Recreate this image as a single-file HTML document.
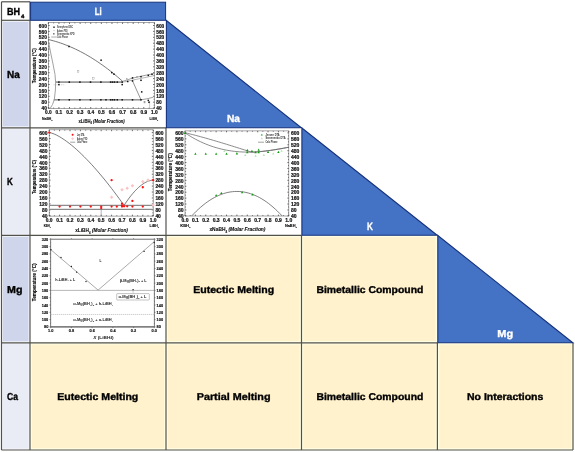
<!DOCTYPE html>
<html><head><meta charset="utf-8"><style>
html,body{margin:0;padding:0;background:#fff;width:575px;height:452px;overflow:hidden;position:relative}
</style></head><body>
<svg width="575" height="452" viewBox="0 0 575 452" style="position:absolute;left:0;top:0;will-change:transform;filter:blur(0.3px)">
<rect x="0" y="0" width="575" height="452" fill="#fff"/>
<rect x="1.5" y="20.3" width="28.5" height="107.5" fill="#f4f5fb"/>
<rect x="3.0" y="21.8" width="25.5" height="104.5" fill="#cfd5ea"/>
<rect x="1.5" y="127.8" width="28.5" height="107.50000000000001" fill="#f4f5fb"/>
<rect x="3.0" y="129.3" width="25.5" height="104.50000000000001" fill="#e9ebf5"/>
<rect x="1.5" y="235.3" width="28.5" height="107.5" fill="#f4f5fb"/>
<rect x="3.0" y="236.8" width="25.5" height="104.5" fill="#cfd5ea"/>
<rect x="1.5" y="342.8" width="28.5" height="107.19999999999999" fill="#f4f5fb"/>
<rect x="3.0" y="344.3" width="25.5" height="104.19999999999999" fill="#e9ebf5"/>
<rect x="166" y="235.3" width="135.5" height="107.5" fill="#fffde2"/>
<rect x="167.9" y="237.20000000000002" width="131.7" height="103.7" fill="#fff2cc"/>
<rect x="301.5" y="235.3" width="135.89999999999998" height="107.5" fill="#fffde2"/>
<rect x="303.4" y="237.20000000000002" width="132.09999999999997" height="103.7" fill="#fff2cc"/>
<rect x="30" y="342.8" width="136" height="107.19999999999999" fill="#fffde2"/>
<rect x="31.9" y="344.7" width="132.2" height="103.39999999999999" fill="#fff2cc"/>
<rect x="166" y="342.8" width="135.5" height="107.19999999999999" fill="#fffde2"/>
<rect x="167.9" y="344.7" width="131.7" height="103.39999999999999" fill="#fff2cc"/>
<rect x="301.5" y="342.8" width="135.89999999999998" height="107.19999999999999" fill="#fffde2"/>
<rect x="303.4" y="344.7" width="132.09999999999997" height="103.39999999999999" fill="#fff2cc"/>
<rect x="437.4" y="342.8" width="135.60000000000002" height="107.19999999999999" fill="#fffde2"/>
<rect x="439.29999999999995" y="344.7" width="131.8" height="103.39999999999999" fill="#fff2cc"/>
<line x1="1.5" y1="1.8" x2="1.5" y2="450.0" stroke="#52524c" stroke-width="1.2"/>
<line x1="1.5" y1="1.8" x2="30" y2="1.8" stroke="#52524c" stroke-width="1.2"/>
<line x1="1.5" y1="20.3" x2="30" y2="20.3" stroke="#52524c" stroke-width="1.2"/>
<line x1="1.5" y1="127.8" x2="166" y2="127.8" stroke="#52524c" stroke-width="1.2"/>
<line x1="1.5" y1="235.3" x2="301.5" y2="235.3" stroke="#52524c" stroke-width="1.2"/>
<line x1="1.5" y1="342.8" x2="437.4" y2="342.8" stroke="#52524c" stroke-width="1.2"/>
<line x1="1.5" y1="450.0" x2="573" y2="450.0" stroke="#52524c" stroke-width="1.2"/>
<line x1="30" y1="1.8" x2="30" y2="450.0" stroke="#52524c" stroke-width="1.2"/>
<line x1="166" y1="127.8" x2="166" y2="450.0" stroke="#52524c" stroke-width="1.2"/>
<line x1="301.5" y1="235.3" x2="301.5" y2="450.0" stroke="#52524c" stroke-width="1.2"/>
<line x1="437.4" y1="342.8" x2="437.4" y2="450.0" stroke="#52524c" stroke-width="1.2"/>
<line x1="573" y1="342.8" x2="573" y2="450.0" stroke="#52524c" stroke-width="1.2"/>
<rect x="30.6" y="2.2" width="135.0" height="18.1" fill="#4472c4" stroke="#15327c" stroke-width="1"/>
<path d="M166.4,20.5 L301.3,127.7 L166.4,127.7 Z" fill="#4472c4" stroke="#15327c" stroke-width="1.1" stroke-linejoin="miter"/>
<path d="M301.9,128.0 L437.2,235.20000000000002 L301.9,235.20000000000002 Z" fill="#4472c4" stroke="#15327c" stroke-width="1.1" stroke-linejoin="miter"/>
<path d="M437.79999999999995,235.5 L572.8,342.7 L437.79999999999995,342.7 Z" fill="#4472c4" stroke="#15327c" stroke-width="1.1" stroke-linejoin="miter"/>
<text x="6.9" y="15.1" style="font-family:'Liberation Sans',sans-serif;font-weight:bold;font-size:10.2px" fill="#000" text-anchor="start" textLength="13.1" lengthAdjust="spacingAndGlyphs" stroke="#000" stroke-width="0.35" text-rendering="geometricPrecision">BH</text>
<text x="21.0" y="17.7" style="font-family:'Liberation Sans',sans-serif;font-weight:bold;font-size:5.2px" fill="#000" text-anchor="start" textLength="3.3" lengthAdjust="spacingAndGlyphs" stroke="#000" stroke-width="0.3" text-rendering="geometricPrecision">4</text>
<text x="94.7" y="14.9" style="font-family:'Liberation Sans',sans-serif;font-weight:bold;font-size:10.4px" fill="#fff" text-anchor="start" textLength="6.9" lengthAdjust="spacingAndGlyphs" stroke="#fff" stroke-width="0.35" text-rendering="geometricPrecision">Li</text>
<text x="7.1" y="77.8" style="font-family:'Liberation Sans',sans-serif;font-weight:bold;font-size:10.2px" fill="#000" text-anchor="start" textLength="12.8" lengthAdjust="spacingAndGlyphs" stroke="#000" stroke-width="0.35" text-rendering="geometricPrecision">Na</text>
<text x="226.9" y="121.8" style="font-family:'Liberation Sans',sans-serif;font-weight:bold;font-size:10.3px" fill="#fff" text-anchor="start" textLength="13.0" lengthAdjust="spacingAndGlyphs" stroke="#fff" stroke-width="0.35" text-rendering="geometricPrecision">Na</text>
<text x="367.1" y="230.2" style="font-family:'Liberation Sans',sans-serif;font-weight:bold;font-size:10.6px" fill="#fff" text-anchor="start" textLength="5.9" lengthAdjust="spacingAndGlyphs" stroke="#fff" stroke-width="0.35" text-rendering="geometricPrecision">K</text>
<text x="497.3" y="336.7" style="font-family:'Liberation Sans',sans-serif;font-weight:bold;font-size:10.1px" fill="#fff" text-anchor="start" textLength="15.8" lengthAdjust="spacingAndGlyphs" stroke="#fff" stroke-width="0.35" text-rendering="geometricPrecision">Mg</text>
<text x="7.1" y="185.1" style="font-family:'Liberation Sans',sans-serif;font-weight:bold;font-size:10.2px" fill="#000" text-anchor="start" textLength="5.8" lengthAdjust="spacingAndGlyphs" stroke="#000" stroke-width="0.35" text-rendering="geometricPrecision">K</text>
<text x="7.1" y="293.0" style="font-family:'Liberation Sans',sans-serif;font-weight:bold;font-size:10.1px" fill="#000" text-anchor="start" textLength="15.4" lengthAdjust="spacingAndGlyphs" stroke="#000" stroke-width="0.35" text-rendering="geometricPrecision">Mg</text>
<text x="7.1" y="400.2" style="font-family:'Liberation Sans',sans-serif;font-weight:bold;font-size:10.2px" fill="#000" text-anchor="start" textLength="11.0" lengthAdjust="spacingAndGlyphs" stroke="#000" stroke-width="0.35" text-rendering="geometricPrecision">Ca</text>
<text x="57.3" y="400.2" style="font-family:'Liberation Sans',sans-serif;font-weight:bold;font-size:9.9px" fill="#000" text-anchor="start" textLength="81" lengthAdjust="spacingAndGlyphs" stroke="#000" stroke-width="0.35" text-rendering="geometricPrecision">Eutectic Melting</text>
<text x="193.2" y="292.8" style="font-family:'Liberation Sans',sans-serif;font-weight:bold;font-size:9.9px" fill="#000" text-anchor="start" textLength="81" lengthAdjust="spacingAndGlyphs" stroke="#000" stroke-width="0.35" text-rendering="geometricPrecision">Eutectic Melting</text>
<text x="316.4" y="292.8" style="font-family:'Liberation Sans',sans-serif;font-weight:bold;font-size:9.9px" fill="#000" text-anchor="start" textLength="107" lengthAdjust="spacingAndGlyphs" stroke="#000" stroke-width="0.35" text-rendering="geometricPrecision">Bimetallic Compound</text>
<text x="196.7" y="400.4" style="font-family:'Liberation Sans',sans-serif;font-weight:bold;font-size:9.9px" fill="#000" text-anchor="start" textLength="73.8" lengthAdjust="spacingAndGlyphs" stroke="#000" stroke-width="0.35" text-rendering="geometricPrecision">Partial Melting</text>
<text x="316.4" y="400.4" style="font-family:'Liberation Sans',sans-serif;font-weight:bold;font-size:9.9px" fill="#000" text-anchor="start" textLength="107" lengthAdjust="spacingAndGlyphs" stroke="#000" stroke-width="0.35" text-rendering="geometricPrecision">Bimetallic Compound</text>
<text x="467" y="400.4" style="font-family:'Liberation Sans',sans-serif;font-weight:bold;font-size:9.9px" fill="#000" text-anchor="start" textLength="76.3" lengthAdjust="spacingAndGlyphs" stroke="#000" stroke-width="0.35" text-rendering="geometricPrecision">No Interactions</text>
<rect x="48.3" y="22.6" width="106.10000000000001" height="85.80000000000001" fill="#fff" stroke="#6a6a6a" stroke-width="0.6"/>
<text x="46.8" y="27.6375" style="font-family:'Liberation Sans',sans-serif;font-weight:bold;font-size:4.75px" fill="#111" text-anchor="end" stroke="#111" stroke-width="0.2">600</text>
<text x="156.3" y="27.6375" style="font-family:'Liberation Sans',sans-serif;font-weight:bold;font-size:4.75px" fill="#111" text-anchor="start" stroke="#111" stroke-width="0.2">600</text>
<text x="46.8" y="33.537499999999994" style="font-family:'Liberation Sans',sans-serif;font-weight:bold;font-size:4.75px" fill="#111" text-anchor="end" stroke="#111" stroke-width="0.2">560</text>
<text x="156.3" y="33.537499999999994" style="font-family:'Liberation Sans',sans-serif;font-weight:bold;font-size:4.75px" fill="#111" text-anchor="start" stroke="#111" stroke-width="0.2">560</text>
<text x="46.8" y="39.4375" style="font-family:'Liberation Sans',sans-serif;font-weight:bold;font-size:4.75px" fill="#111" text-anchor="end" stroke="#111" stroke-width="0.2">520</text>
<text x="156.3" y="39.4375" style="font-family:'Liberation Sans',sans-serif;font-weight:bold;font-size:4.75px" fill="#111" text-anchor="start" stroke="#111" stroke-width="0.2">520</text>
<text x="46.8" y="45.33749999999999" style="font-family:'Liberation Sans',sans-serif;font-weight:bold;font-size:4.75px" fill="#111" text-anchor="end" stroke="#111" stroke-width="0.2">480</text>
<text x="156.3" y="45.33749999999999" style="font-family:'Liberation Sans',sans-serif;font-weight:bold;font-size:4.75px" fill="#111" text-anchor="start" stroke="#111" stroke-width="0.2">480</text>
<text x="46.8" y="51.2375" style="font-family:'Liberation Sans',sans-serif;font-weight:bold;font-size:4.75px" fill="#111" text-anchor="end" stroke="#111" stroke-width="0.2">440</text>
<text x="156.3" y="51.2375" style="font-family:'Liberation Sans',sans-serif;font-weight:bold;font-size:4.75px" fill="#111" text-anchor="start" stroke="#111" stroke-width="0.2">440</text>
<text x="46.8" y="57.1375" style="font-family:'Liberation Sans',sans-serif;font-weight:bold;font-size:4.75px" fill="#111" text-anchor="end" stroke="#111" stroke-width="0.2">400</text>
<text x="156.3" y="57.1375" style="font-family:'Liberation Sans',sans-serif;font-weight:bold;font-size:4.75px" fill="#111" text-anchor="start" stroke="#111" stroke-width="0.2">400</text>
<text x="46.8" y="63.037499999999994" style="font-family:'Liberation Sans',sans-serif;font-weight:bold;font-size:4.75px" fill="#111" text-anchor="end" stroke="#111" stroke-width="0.2">360</text>
<text x="156.3" y="63.037499999999994" style="font-family:'Liberation Sans',sans-serif;font-weight:bold;font-size:4.75px" fill="#111" text-anchor="start" stroke="#111" stroke-width="0.2">360</text>
<text x="46.8" y="68.9375" style="font-family:'Liberation Sans',sans-serif;font-weight:bold;font-size:4.75px" fill="#111" text-anchor="end" stroke="#111" stroke-width="0.2">320</text>
<text x="156.3" y="68.9375" style="font-family:'Liberation Sans',sans-serif;font-weight:bold;font-size:4.75px" fill="#111" text-anchor="start" stroke="#111" stroke-width="0.2">320</text>
<text x="46.8" y="74.83749999999999" style="font-family:'Liberation Sans',sans-serif;font-weight:bold;font-size:4.75px" fill="#111" text-anchor="end" stroke="#111" stroke-width="0.2">280</text>
<text x="156.3" y="74.83749999999999" style="font-family:'Liberation Sans',sans-serif;font-weight:bold;font-size:4.75px" fill="#111" text-anchor="start" stroke="#111" stroke-width="0.2">280</text>
<text x="46.8" y="80.7375" style="font-family:'Liberation Sans',sans-serif;font-weight:bold;font-size:4.75px" fill="#111" text-anchor="end" stroke="#111" stroke-width="0.2">240</text>
<text x="156.3" y="80.7375" style="font-family:'Liberation Sans',sans-serif;font-weight:bold;font-size:4.75px" fill="#111" text-anchor="start" stroke="#111" stroke-width="0.2">240</text>
<text x="46.8" y="86.6375" style="font-family:'Liberation Sans',sans-serif;font-weight:bold;font-size:4.75px" fill="#111" text-anchor="end" stroke="#111" stroke-width="0.2">200</text>
<text x="156.3" y="86.6375" style="font-family:'Liberation Sans',sans-serif;font-weight:bold;font-size:4.75px" fill="#111" text-anchor="start" stroke="#111" stroke-width="0.2">200</text>
<text x="46.8" y="92.5375" style="font-family:'Liberation Sans',sans-serif;font-weight:bold;font-size:4.75px" fill="#111" text-anchor="end" stroke="#111" stroke-width="0.2">160</text>
<text x="156.3" y="92.5375" style="font-family:'Liberation Sans',sans-serif;font-weight:bold;font-size:4.75px" fill="#111" text-anchor="start" stroke="#111" stroke-width="0.2">160</text>
<text x="46.8" y="98.4375" style="font-family:'Liberation Sans',sans-serif;font-weight:bold;font-size:4.75px" fill="#111" text-anchor="end" stroke="#111" stroke-width="0.2">120</text>
<text x="156.3" y="98.4375" style="font-family:'Liberation Sans',sans-serif;font-weight:bold;font-size:4.75px" fill="#111" text-anchor="start" stroke="#111" stroke-width="0.2">120</text>
<text x="46.8" y="104.33749999999999" style="font-family:'Liberation Sans',sans-serif;font-weight:bold;font-size:4.75px" fill="#111" text-anchor="end" stroke="#111" stroke-width="0.2">80</text>
<text x="156.3" y="104.33749999999999" style="font-family:'Liberation Sans',sans-serif;font-weight:bold;font-size:4.75px" fill="#111" text-anchor="start" stroke="#111" stroke-width="0.2">80</text>
<text x="46.8" y="110.2375" style="font-family:'Liberation Sans',sans-serif;font-weight:bold;font-size:4.75px" fill="#111" text-anchor="end" stroke="#111" stroke-width="0.2">40</text>
<text x="156.3" y="110.2375" style="font-family:'Liberation Sans',sans-serif;font-weight:bold;font-size:4.75px" fill="#111" text-anchor="start" stroke="#111" stroke-width="0.2">40</text>
<text x="48.3" y="113.9" style="font-family:'Liberation Sans',sans-serif;font-weight:bold;font-size:4.75px" fill="#111" text-anchor="middle" stroke="#111" stroke-width="0.2">0.0</text>
<text x="58.91" y="113.9" style="font-family:'Liberation Sans',sans-serif;font-weight:bold;font-size:4.75px" fill="#111" text-anchor="middle" stroke="#111" stroke-width="0.2">0.1</text>
<text x="69.52" y="113.9" style="font-family:'Liberation Sans',sans-serif;font-weight:bold;font-size:4.75px" fill="#111" text-anchor="middle" stroke="#111" stroke-width="0.2">0.2</text>
<text x="80.13" y="113.9" style="font-family:'Liberation Sans',sans-serif;font-weight:bold;font-size:4.75px" fill="#111" text-anchor="middle" stroke="#111" stroke-width="0.2">0.3</text>
<text x="90.74000000000001" y="113.9" style="font-family:'Liberation Sans',sans-serif;font-weight:bold;font-size:4.75px" fill="#111" text-anchor="middle" stroke="#111" stroke-width="0.2">0.4</text>
<text x="101.35" y="113.9" style="font-family:'Liberation Sans',sans-serif;font-weight:bold;font-size:4.75px" fill="#111" text-anchor="middle" stroke="#111" stroke-width="0.2">0.5</text>
<text x="111.96000000000001" y="113.9" style="font-family:'Liberation Sans',sans-serif;font-weight:bold;font-size:4.75px" fill="#111" text-anchor="middle" stroke="#111" stroke-width="0.2">0.6</text>
<text x="122.57" y="113.9" style="font-family:'Liberation Sans',sans-serif;font-weight:bold;font-size:4.75px" fill="#111" text-anchor="middle" stroke="#111" stroke-width="0.2">0.7</text>
<text x="133.18" y="113.9" style="font-family:'Liberation Sans',sans-serif;font-weight:bold;font-size:4.75px" fill="#111" text-anchor="middle" stroke="#111" stroke-width="0.2">0.8</text>
<text x="143.79000000000002" y="113.9" style="font-family:'Liberation Sans',sans-serif;font-weight:bold;font-size:4.75px" fill="#111" text-anchor="middle" stroke="#111" stroke-width="0.2">0.9</text>
<text x="154.4" y="113.9" style="font-family:'Liberation Sans',sans-serif;font-weight:bold;font-size:4.75px" fill="#111" text-anchor="middle" stroke="#111" stroke-width="0.2">1.0</text>
<path d="M48.3,25.50h1.4M154.4,25.50h-1.4M48.3,28.45h0.8M154.4,28.45h-0.8M48.3,31.40h1.4M154.4,31.40h-1.4M48.3,34.35h0.8M154.4,34.35h-0.8M48.3,37.30h1.4M154.4,37.30h-1.4M48.3,40.25h0.8M154.4,40.25h-0.8M48.3,43.20h1.4M154.4,43.20h-1.4M48.3,46.15h0.8M154.4,46.15h-0.8M48.3,49.10h1.4M154.4,49.10h-1.4M48.3,52.05h0.8M154.4,52.05h-0.8M48.3,55.00h1.4M154.4,55.00h-1.4M48.3,57.95h0.8M154.4,57.95h-0.8M48.3,60.90h1.4M154.4,60.90h-1.4M48.3,63.85h0.8M154.4,63.85h-0.8M48.3,66.80h1.4M154.4,66.80h-1.4M48.3,69.75h0.8M154.4,69.75h-0.8M48.3,72.70h1.4M154.4,72.70h-1.4M48.3,75.65h0.8M154.4,75.65h-0.8M48.3,78.60h1.4M154.4,78.60h-1.4M48.3,81.55h0.8M154.4,81.55h-0.8M48.3,84.50h1.4M154.4,84.50h-1.4M48.3,87.45h0.8M154.4,87.45h-0.8M48.3,90.40h1.4M154.4,90.40h-1.4M48.3,93.35h0.8M154.4,93.35h-0.8M48.3,96.30h1.4M154.4,96.30h-1.4M48.3,99.25h0.8M154.4,99.25h-0.8M48.3,102.20h1.4M154.4,102.20h-1.4M48.3,105.15h0.8M154.4,105.15h-0.8M48.3,108.10h1.4M154.4,108.10h-1.4M48.30,108.4v-1.4M48.30,22.6v1.4M53.60,108.4v-0.8M53.60,22.6v0.8M58.91,108.4v-1.4M58.91,22.6v1.4M64.22,108.4v-0.8M64.22,22.6v0.8M69.52,108.4v-1.4M69.52,22.6v1.4M74.82,108.4v-0.8M74.82,22.6v0.8M80.13,108.4v-1.4M80.13,22.6v1.4M85.44,108.4v-0.8M85.44,22.6v0.8M90.74,108.4v-1.4M90.74,22.6v1.4M96.05,108.4v-0.8M96.05,22.6v0.8M101.35,108.4v-1.4M101.35,22.6v1.4M106.66,108.4v-0.8M106.66,22.6v0.8M111.96,108.4v-1.4M111.96,22.6v1.4M117.27,108.4v-0.8M117.27,22.6v0.8M122.57,108.4v-1.4M122.57,22.6v1.4M127.88,108.4v-0.8M127.88,22.6v0.8M133.18,108.4v-1.4M133.18,22.6v1.4M138.49,108.4v-0.8M138.49,22.6v0.8M143.79,108.4v-1.4M143.79,22.6v1.4M149.10,108.4v-0.8M149.10,22.6v0.8M154.40,108.4v-1.4M154.40,22.6v1.4" stroke="#333" stroke-width="0.7" fill="none"/>
<path d="M48.50,41.50 L50.50,52.00 L53.00,64.00 L55.00,74.50 L55.60,82.10 L55.40,90.00 L54.30,99.80 L52.50,104.50 L50.30,108.20" fill="none" stroke="#8a8a8a" stroke-width="0.8"/>
<path d="M48.30,39.51 L50.78,40.12 L53.25,40.77 L55.73,41.48 L58.20,42.25 L60.68,43.07 L63.15,43.95 L65.63,44.88 L68.11,45.86 L70.58,46.90 L73.06,47.99 L75.53,49.14 L78.01,50.34 L80.48,51.59 L82.96,52.90 L85.44,54.27 L87.91,55.69 L90.39,57.16 L92.86,58.69 L95.34,60.27 L97.81,61.90 L100.29,63.60 L102.76,65.34 L105.24,67.14 L107.72,68.99 L110.19,70.90 L112.67,72.86 L115.14,74.88 L117.62,76.95 L120.09,79.08 L122.57,81.26" fill="none" stroke="#555" stroke-width="0.8"/>
<path d="M55.60,82.10 L122.20,82.10" fill="none" stroke="#a8a8a8" stroke-width="1.6"/>
<path d="M55.60,82.10 L122.20,82.10" fill="none" stroke="#777" stroke-width="0.5"/>
<path d="M53.70,99.80 L141.00,99.80" fill="none" stroke="#a8a8a8" stroke-width="1.6"/>
<path d="M53.70,99.80 L141.00,99.80" fill="none" stroke="#777" stroke-width="0.5"/>
<path d="M122.20,81.50 L132.00,78.30 L142.00,76.00 L154.20,73.60" fill="none" stroke="#777" stroke-width="0.7"/>
<path d="M122.20,82.30 L132.00,80.20 L142.00,78.20 L154.20,75.60" fill="none" stroke="#999" stroke-width="0.7"/>
<path d="M132.50,80.90 L141.00,99.80" fill="none" stroke="#666" stroke-width="0.7"/>
<path d="M141.00,99.80 L147.00,98.80 L153.40,97.20" fill="none" stroke="#777" stroke-width="0.7"/>
<path d="M149.60,101.00 L149.60,107.80" fill="none" stroke="#999" stroke-width="0.5"/>
<path d="M53.70,84.80 L64.70,84.80" fill="none" stroke="#aaa" stroke-width="0.6" stroke-dasharray="1,0.8"/>
<rect x="58.15" y="81.35" width="1.5" height="1.5" fill="#111"/>
<rect x="68.55" y="81.35" width="1.5" height="1.5" fill="#111"/>
<rect x="79.15" y="81.35" width="1.5" height="1.5" fill="#111"/>
<rect x="89.75" y="81.35" width="1.5" height="1.5" fill="#111"/>
<rect x="100.15" y="81.35" width="1.5" height="1.5" fill="#111"/>
<rect x="109.85" y="81.35" width="1.5" height="1.5" fill="#111"/>
<rect x="111.75" y="81.35" width="1.5" height="1.5" fill="#111"/>
<rect x="113.75" y="81.35" width="1.5" height="1.5" fill="#111"/>
<rect x="116.55" y="81.35" width="1.5" height="1.5" fill="#111"/>
<rect x="121.45" y="81.35" width="1.5" height="1.5" fill="#111"/>
<rect x="58.15" y="99.05" width="1.5" height="1.5" fill="#111"/>
<rect x="68.55" y="99.05" width="1.5" height="1.5" fill="#111"/>
<rect x="79.15" y="99.05" width="1.5" height="1.5" fill="#111"/>
<rect x="89.75" y="99.05" width="1.5" height="1.5" fill="#111"/>
<rect x="100.15" y="99.05" width="1.5" height="1.5" fill="#111"/>
<rect x="105.25" y="99.05" width="1.5" height="1.5" fill="#111"/>
<rect x="109.85" y="99.05" width="1.5" height="1.5" fill="#111"/>
<rect x="111.75" y="99.05" width="1.5" height="1.5" fill="#111"/>
<rect x="113.75" y="99.05" width="1.5" height="1.5" fill="#111"/>
<rect x="116.55" y="99.05" width="1.5" height="1.5" fill="#111"/>
<rect x="121.45" y="99.05" width="1.5" height="1.5" fill="#111"/>
<rect x="131.75" y="99.05" width="1.5" height="1.5" fill="#111"/>
<rect x="140.25" y="99.05" width="1.5" height="1.5" fill="#111"/>
<rect x="58.15" y="83.85" width="1.5" height="1.5" fill="#111"/>
<rect x="68.25" y="45.75" width="1.5" height="1.5" fill="#111"/>
<rect x="100.35" y="59.45" width="1.5" height="1.5" fill="#111"/>
<rect x="111.05" y="71.85" width="1.5" height="1.5" fill="#111"/>
<rect x="113.25" y="73.45" width="1.5" height="1.5" fill="#111"/>
<rect x="121.45" y="83.85" width="1.5" height="1.5" fill="#111"/>
<rect x="126.95" y="80.75" width="1.5" height="1.5" fill="#111"/>
<rect x="131.75" y="77.15" width="1.5" height="1.5" fill="#111"/>
<rect x="131.75" y="80.15" width="1.5" height="1.5" fill="#111"/>
<rect x="140.25" y="75.95" width="1.5" height="1.5" fill="#111"/>
<rect x="140.25" y="79.55" width="1.5" height="1.5" fill="#111"/>
<rect x="147.55" y="74.65" width="1.5" height="1.5" fill="#111"/>
<rect x="151.25" y="73.45" width="1.5" height="1.5" fill="#111"/>
<rect x="140.95" y="91.15" width="1.5" height="1.5" fill="#111"/>
<rect x="147.55" y="99.65" width="1.5" height="1.5" fill="#111"/>
<rect x="148.25" y="101.55" width="1.5" height="1.5" fill="#111"/>
<rect x="77.3" y="70.60000000000001" width="1.6" height="1.6" fill="none" stroke="#999" stroke-width="0.4"/>
<rect x="92.5" y="77.7" width="1.6" height="1.6" fill="none" stroke="#999" stroke-width="0.4"/>
<rect x="143.89999999999998" y="101.4" width="1.6" height="1.6" fill="none" stroke="#999" stroke-width="0.4"/>
<rect x="126.2" y="78.2" width="1.6" height="1.6" fill="none" stroke="#999" stroke-width="0.4"/>
<rect x="136.2" y="76.2" width="1.6" height="1.6" fill="none" stroke="#999" stroke-width="0.4"/>
<rect x="53.30" y="26.50" width="1.4" height="1.4" fill="#111"/>
<line x1="53.2" y1="30.6" x2="55" y2="30.6" stroke="#bbb" stroke-width="0.6"/>
<rect x="53.4" y="33.4" width="1.2" height="1.2" fill="#bbb" stroke="#666" stroke-width="0.4"/>
<line x1="51.2" y1="37" x2="56.8" y2="37" stroke="#999" stroke-width="0.8"/>
<text x="57.1" y="28.2" style="font-family:'Liberation Sans',sans-serif;font-weight:bold;font-size:2.8px" fill="#333" text-anchor="start" textLength="16" lengthAdjust="spacingAndGlyphs">Semyhera DSC</text>
<text x="57.1" y="31.6" style="font-family:'Liberation Sans',sans-serif;font-weight:bold;font-size:2.8px" fill="#333" text-anchor="start" textLength="10.5" lengthAdjust="spacingAndGlyphs">Adams PXD</text>
<text x="57.1" y="35.0" style="font-family:'Liberation Sans',sans-serif;font-weight:bold;font-size:2.8px" fill="#333" text-anchor="start" textLength="17.4" lengthAdjust="spacingAndGlyphs">Semenenko XPD</text>
<text x="57.1" y="38.0" style="font-family:'Liberation Sans',sans-serif;font-weight:bold;font-size:2.8px" fill="#333" text-anchor="start" textLength="10.8" lengthAdjust="spacingAndGlyphs">Calc Phase</text>
<text transform="translate(35.8,65.7) rotate(-90)" x="0" y="0" style="font-family:'Liberation Sans',sans-serif;font-weight:bold;font-size:4.9px" fill="#000" stroke="#000" stroke-width="0.12" text-anchor="middle" textLength="35" lengthAdjust="spacingAndGlyphs">Temperature (°C)</text>
<text x="42.0" y="119.6" style="font-family:'Liberation Sans',sans-serif;font-weight:bold;font-size:4.2px" fill="#111" stroke="#111" stroke-width="0.15" textLength="10.5" lengthAdjust="spacingAndGlyphs">NaBH<tspan style="font-size:2.52px" dy="1.05">4</tspan></text>
<text x="149.6" y="119.6" style="font-family:'Liberation Sans',sans-serif;font-weight:bold;font-size:4.2px" fill="#111" stroke="#111" stroke-width="0.15" textLength="8.6" lengthAdjust="spacingAndGlyphs">LiBH<tspan style="font-size:2.52px" dy="1.05">4</tspan></text>
<text x="78.4" y="122.6" style="font-family:'Liberation Sans',sans-serif;font-weight:bold;font-size:5.0px" fill="#111" stroke="#111" stroke-width="0.12" textLength="46.3" lengthAdjust="spacingAndGlyphs">xLiBH<tspan style="font-size:3.00px" dy="1.25">4</tspan><tspan dy="-1.25" style="font-style:italic;"> (Molar Fraction)</tspan></text>
<rect x="49.2" y="129.8" width="103.99999999999999" height="86.29999999999998" fill="#fff" stroke="#6a6a6a" stroke-width="0.6"/>
<text x="47.5" y="134.805" style="font-family:'Liberation Sans',sans-serif;font-weight:bold;font-size:4.9px" fill="#111" text-anchor="end" stroke="#111" stroke-width="0.2">600</text>
<text x="155.4" y="134.805" style="font-family:'Liberation Sans',sans-serif;font-weight:bold;font-size:4.9px" fill="#111" text-anchor="start" stroke="#111" stroke-width="0.2">600</text>
<text x="47.5" y="140.74785714285716" style="font-family:'Liberation Sans',sans-serif;font-weight:bold;font-size:4.9px" fill="#111" text-anchor="end" stroke="#111" stroke-width="0.2">560</text>
<text x="155.4" y="140.74785714285716" style="font-family:'Liberation Sans',sans-serif;font-weight:bold;font-size:4.9px" fill="#111" text-anchor="start" stroke="#111" stroke-width="0.2">560</text>
<text x="47.5" y="146.69071428571428" style="font-family:'Liberation Sans',sans-serif;font-weight:bold;font-size:4.9px" fill="#111" text-anchor="end" stroke="#111" stroke-width="0.2">520</text>
<text x="155.4" y="146.69071428571428" style="font-family:'Liberation Sans',sans-serif;font-weight:bold;font-size:4.9px" fill="#111" text-anchor="start" stroke="#111" stroke-width="0.2">520</text>
<text x="47.5" y="152.63357142857146" style="font-family:'Liberation Sans',sans-serif;font-weight:bold;font-size:4.9px" fill="#111" text-anchor="end" stroke="#111" stroke-width="0.2">480</text>
<text x="155.4" y="152.63357142857146" style="font-family:'Liberation Sans',sans-serif;font-weight:bold;font-size:4.9px" fill="#111" text-anchor="start" stroke="#111" stroke-width="0.2">480</text>
<text x="47.5" y="158.57642857142858" style="font-family:'Liberation Sans',sans-serif;font-weight:bold;font-size:4.9px" fill="#111" text-anchor="end" stroke="#111" stroke-width="0.2">440</text>
<text x="155.4" y="158.57642857142858" style="font-family:'Liberation Sans',sans-serif;font-weight:bold;font-size:4.9px" fill="#111" text-anchor="start" stroke="#111" stroke-width="0.2">440</text>
<text x="47.5" y="164.51928571428573" style="font-family:'Liberation Sans',sans-serif;font-weight:bold;font-size:4.9px" fill="#111" text-anchor="end" stroke="#111" stroke-width="0.2">400</text>
<text x="155.4" y="164.51928571428573" style="font-family:'Liberation Sans',sans-serif;font-weight:bold;font-size:4.9px" fill="#111" text-anchor="start" stroke="#111" stroke-width="0.2">400</text>
<text x="47.5" y="170.46214285714288" style="font-family:'Liberation Sans',sans-serif;font-weight:bold;font-size:4.9px" fill="#111" text-anchor="end" stroke="#111" stroke-width="0.2">360</text>
<text x="155.4" y="170.46214285714288" style="font-family:'Liberation Sans',sans-serif;font-weight:bold;font-size:4.9px" fill="#111" text-anchor="start" stroke="#111" stroke-width="0.2">360</text>
<text x="47.5" y="176.405" style="font-family:'Liberation Sans',sans-serif;font-weight:bold;font-size:4.9px" fill="#111" text-anchor="end" stroke="#111" stroke-width="0.2">320</text>
<text x="155.4" y="176.405" style="font-family:'Liberation Sans',sans-serif;font-weight:bold;font-size:4.9px" fill="#111" text-anchor="start" stroke="#111" stroke-width="0.2">320</text>
<text x="47.5" y="182.34785714285715" style="font-family:'Liberation Sans',sans-serif;font-weight:bold;font-size:4.9px" fill="#111" text-anchor="end" stroke="#111" stroke-width="0.2">280</text>
<text x="155.4" y="182.34785714285715" style="font-family:'Liberation Sans',sans-serif;font-weight:bold;font-size:4.9px" fill="#111" text-anchor="start" stroke="#111" stroke-width="0.2">280</text>
<text x="47.5" y="188.2907142857143" style="font-family:'Liberation Sans',sans-serif;font-weight:bold;font-size:4.9px" fill="#111" text-anchor="end" stroke="#111" stroke-width="0.2">240</text>
<text x="155.4" y="188.2907142857143" style="font-family:'Liberation Sans',sans-serif;font-weight:bold;font-size:4.9px" fill="#111" text-anchor="start" stroke="#111" stroke-width="0.2">240</text>
<text x="47.5" y="194.23357142857145" style="font-family:'Liberation Sans',sans-serif;font-weight:bold;font-size:4.9px" fill="#111" text-anchor="end" stroke="#111" stroke-width="0.2">200</text>
<text x="155.4" y="194.23357142857145" style="font-family:'Liberation Sans',sans-serif;font-weight:bold;font-size:4.9px" fill="#111" text-anchor="start" stroke="#111" stroke-width="0.2">200</text>
<text x="47.5" y="200.1764285714286" style="font-family:'Liberation Sans',sans-serif;font-weight:bold;font-size:4.9px" fill="#111" text-anchor="end" stroke="#111" stroke-width="0.2">160</text>
<text x="155.4" y="200.1764285714286" style="font-family:'Liberation Sans',sans-serif;font-weight:bold;font-size:4.9px" fill="#111" text-anchor="start" stroke="#111" stroke-width="0.2">160</text>
<text x="47.5" y="206.11928571428572" style="font-family:'Liberation Sans',sans-serif;font-weight:bold;font-size:4.9px" fill="#111" text-anchor="end" stroke="#111" stroke-width="0.2">120</text>
<text x="155.4" y="206.11928571428572" style="font-family:'Liberation Sans',sans-serif;font-weight:bold;font-size:4.9px" fill="#111" text-anchor="start" stroke="#111" stroke-width="0.2">120</text>
<text x="47.5" y="212.06214285714287" style="font-family:'Liberation Sans',sans-serif;font-weight:bold;font-size:4.9px" fill="#111" text-anchor="end" stroke="#111" stroke-width="0.2">80</text>
<text x="155.4" y="212.06214285714287" style="font-family:'Liberation Sans',sans-serif;font-weight:bold;font-size:4.9px" fill="#111" text-anchor="start" stroke="#111" stroke-width="0.2">80</text>
<text x="47.5" y="218.00500000000002" style="font-family:'Liberation Sans',sans-serif;font-weight:bold;font-size:4.9px" fill="#111" text-anchor="end" stroke="#111" stroke-width="0.2">40</text>
<text x="155.4" y="218.00500000000002" style="font-family:'Liberation Sans',sans-serif;font-weight:bold;font-size:4.9px" fill="#111" text-anchor="start" stroke="#111" stroke-width="0.2">40</text>
<text x="49.2" y="222.0" style="font-family:'Liberation Sans',sans-serif;font-weight:bold;font-size:4.9px" fill="#111" text-anchor="middle" stroke="#111" stroke-width="0.2">0.0</text>
<text x="59.6" y="222.0" style="font-family:'Liberation Sans',sans-serif;font-weight:bold;font-size:4.9px" fill="#111" text-anchor="middle" stroke="#111" stroke-width="0.2">0.1</text>
<text x="70.0" y="222.0" style="font-family:'Liberation Sans',sans-serif;font-weight:bold;font-size:4.9px" fill="#111" text-anchor="middle" stroke="#111" stroke-width="0.2">0.2</text>
<text x="80.4" y="222.0" style="font-family:'Liberation Sans',sans-serif;font-weight:bold;font-size:4.9px" fill="#111" text-anchor="middle" stroke="#111" stroke-width="0.2">0.3</text>
<text x="90.8" y="222.0" style="font-family:'Liberation Sans',sans-serif;font-weight:bold;font-size:4.9px" fill="#111" text-anchor="middle" stroke="#111" stroke-width="0.2">0.4</text>
<text x="101.19999999999999" y="222.0" style="font-family:'Liberation Sans',sans-serif;font-weight:bold;font-size:4.9px" fill="#111" text-anchor="middle" stroke="#111" stroke-width="0.2">0.5</text>
<text x="111.6" y="222.0" style="font-family:'Liberation Sans',sans-serif;font-weight:bold;font-size:4.9px" fill="#111" text-anchor="middle" stroke="#111" stroke-width="0.2">0.6</text>
<text x="121.99999999999999" y="222.0" style="font-family:'Liberation Sans',sans-serif;font-weight:bold;font-size:4.9px" fill="#111" text-anchor="middle" stroke="#111" stroke-width="0.2">0.7</text>
<text x="132.39999999999998" y="222.0" style="font-family:'Liberation Sans',sans-serif;font-weight:bold;font-size:4.9px" fill="#111" text-anchor="middle" stroke="#111" stroke-width="0.2">0.8</text>
<text x="142.8" y="222.0" style="font-family:'Liberation Sans',sans-serif;font-weight:bold;font-size:4.9px" fill="#111" text-anchor="middle" stroke="#111" stroke-width="0.2">0.9</text>
<text x="153.2" y="222.0" style="font-family:'Liberation Sans',sans-serif;font-weight:bold;font-size:4.9px" fill="#111" text-anchor="middle" stroke="#111" stroke-width="0.2">1.0</text>
<path d="M49.2,132.60h1.4M153.2,132.60h-1.4M49.2,135.57h0.8M153.2,135.57h-0.8M49.2,138.54h1.4M153.2,138.54h-1.4M49.2,141.51h0.8M153.2,141.51h-0.8M49.2,144.49h1.4M153.2,144.49h-1.4M49.2,147.46h0.8M153.2,147.46h-0.8M49.2,150.43h1.4M153.2,150.43h-1.4M49.2,153.40h0.8M153.2,153.40h-0.8M49.2,156.37h1.4M153.2,156.37h-1.4M49.2,159.34h0.8M153.2,159.34h-0.8M49.2,162.31h1.4M153.2,162.31h-1.4M49.2,165.29h0.8M153.2,165.29h-0.8M49.2,168.26h1.4M153.2,168.26h-1.4M49.2,171.23h0.8M153.2,171.23h-0.8M49.2,174.20h1.4M153.2,174.20h-1.4M49.2,177.17h0.8M153.2,177.17h-0.8M49.2,180.14h1.4M153.2,180.14h-1.4M49.2,183.11h0.8M153.2,183.11h-0.8M49.2,186.09h1.4M153.2,186.09h-1.4M49.2,189.06h0.8M153.2,189.06h-0.8M49.2,192.03h1.4M153.2,192.03h-1.4M49.2,195.00h0.8M153.2,195.00h-0.8M49.2,197.97h1.4M153.2,197.97h-1.4M49.2,200.94h0.8M153.2,200.94h-0.8M49.2,203.91h1.4M153.2,203.91h-1.4M49.2,206.89h0.8M153.2,206.89h-0.8M49.2,209.86h1.4M153.2,209.86h-1.4M49.2,212.83h0.8M153.2,212.83h-0.8M49.2,215.80h1.4M153.2,215.80h-1.4M49.20,216.1v-1.4M49.20,129.8v1.4M54.40,216.1v-0.8M54.40,129.8v0.8M59.60,216.1v-1.4M59.60,129.8v1.4M64.80,216.1v-0.8M64.80,129.8v0.8M70.00,216.1v-1.4M70.00,129.8v1.4M75.20,216.1v-0.8M75.20,129.8v0.8M80.40,216.1v-1.4M80.40,129.8v1.4M85.60,216.1v-0.8M85.60,129.8v0.8M90.80,216.1v-1.4M90.80,129.8v1.4M96.00,216.1v-0.8M96.00,129.8v0.8M101.20,216.1v-1.4M101.20,129.8v1.4M106.40,216.1v-0.8M106.40,129.8v0.8M111.60,216.1v-1.4M111.60,129.8v1.4M116.80,216.1v-0.8M116.80,129.8v0.8M122.00,216.1v-1.4M122.00,129.8v1.4M127.20,216.1v-0.8M127.20,129.8v0.8M132.40,216.1v-1.4M132.40,129.8v1.4M137.60,216.1v-0.8M137.60,129.8v0.8M142.80,216.1v-1.4M142.80,129.8v1.4M148.00,216.1v-0.8M148.00,129.8v0.8M153.20,216.1v-1.4M153.20,129.8v1.4" stroke="#333" stroke-width="0.7" fill="none"/>
<path d="M49.20,205.40 L153.20,205.40" fill="none" stroke="#aaa" stroke-width="1.4"/>
<path d="M49.20,205.40 L153.20,205.40" fill="none" stroke="#666" stroke-width="0.5"/>
<path d="M49.20,209.41 L153.20,209.41" fill="none" stroke="#aaa" stroke-width="1.2"/>
<path d="M49.20,209.41 L153.20,209.41" fill="none" stroke="#666" stroke-width="0.5"/>
<path d="M101.20,209.41 L101.20,215.80" fill="none" stroke="#666" stroke-width="0.5"/>
<path d="M49.20,132.60 L51.70,133.13 L54.19,134.03 L56.69,135.18 L59.18,136.52 L61.68,138.02 L64.18,139.66 L66.67,141.42 L69.17,143.31 L71.66,145.30 L74.16,147.40 L76.66,149.60 L79.15,151.88 L81.65,154.25 L84.14,156.71 L86.64,159.25 L89.14,161.86 L91.63,164.55 L94.13,167.31 L96.62,170.14 L99.12,173.04 L101.62,176.00 L104.11,179.03 L106.61,182.12 L109.10,185.28 L111.60,188.49 L114.10,191.76 L116.59,195.09 L119.09,198.47 L121.58,201.91 L124.08,205.40" fill="none" stroke="#444" stroke-width="0.7"/>
<path d="M124.08,205.40 L125.54,203.17 L126.99,201.04 L128.45,198.99 L129.90,197.05 L131.36,195.19 L132.82,193.43 L134.27,191.77 L135.73,190.21 L137.18,188.75 L138.64,187.40 L140.10,186.14 L141.55,185.00 L143.01,183.96 L144.46,183.03 L145.92,182.23 L147.38,181.54 L148.83,180.97 L150.29,180.54 L151.74,180.26 L153.20,180.14" fill="none" stroke="#444" stroke-width="0.7"/>
<circle cx="59.60" cy="206.59" r="1.15" fill="#ff1010"/>
<circle cx="70.00" cy="206.59" r="1.15" fill="#ff1010"/>
<circle cx="80.40" cy="206.59" r="1.15" fill="#ff1010"/>
<circle cx="90.80" cy="206.59" r="1.15" fill="#ff1010"/>
<circle cx="101.20" cy="206.59" r="1.15" fill="#ff1010"/>
<circle cx="101.20" cy="208.07" r="1.15" fill="#ff1010"/>
<circle cx="111.60" cy="206.59" r="1.15" fill="#ff1010"/>
<circle cx="116.80" cy="206.59" r="1.15" fill="#ff1010"/>
<circle cx="122.00" cy="206.59" r="1.15" fill="#ff1010"/>
<circle cx="122.00" cy="205.40" r="1.15" fill="#ff1010"/>
<circle cx="124.08" cy="206.29" r="1.15" fill="#ff1010"/>
<circle cx="127.20" cy="206.29" r="1.15" fill="#ff1010"/>
<circle cx="132.40" cy="206.59" r="1.15" fill="#ff1010"/>
<circle cx="142.80" cy="206.59" r="1.15" fill="#ff1010"/>
<circle cx="111.60" cy="180.14" r="1.15" fill="#ff1010"/>
<circle cx="122.00" cy="203.62" r="1.15" fill="#ff1010"/>
<circle cx="132.40" cy="200.94" r="1.15" fill="#ff1010"/>
<circle cx="142.80" cy="187.27" r="1.15" fill="#ff1010"/>
<circle cx="49.20" cy="132.60" r="1.15" fill="#ff1010"/>
<circle cx="153.20" cy="180.14" r="1.15" fill="#ff1010"/>
<rect x="110.35" y="195.98" width="2.5" height="2.5" fill="#fbc4c4" transform="rotate(45 111.60 197.23)"/>
<rect x="120.75" y="188.55" width="2.5" height="2.5" fill="#fbc4c4" transform="rotate(45 122.00 189.80)"/>
<rect x="125.95" y="187.06" width="2.5" height="2.5" fill="#fbc4c4" transform="rotate(45 127.20 188.31)"/>
<rect x="131.15" y="184.54" width="2.5" height="2.5" fill="#fbc4c4" transform="rotate(45 132.40 185.79)"/>
<rect x="141.55" y="180.38" width="2.5" height="2.5" fill="#fbc4c4" transform="rotate(45 142.80 181.63)"/>
<rect x="146.75" y="178.89" width="2.5" height="2.5" fill="#fbc4c4" transform="rotate(45 148.00 180.14)"/>
<rect x="151.95" y="203.85" width="2.5" height="2.5" fill="#fbc4c4" transform="rotate(45 153.20 205.10)"/>
<circle cx="72.60" cy="134.70" r="1.0" fill="#ff1010"/>
<rect x="71.6" y="137.7" width="2.0" height="2.0" fill="#fbc4c4" transform="rotate(45 72.6 138.7)"/>
<line x1="70.2" y1="142.2" x2="75.2" y2="142.2" stroke="#999" stroke-width="0.9"/>
<text x="76.9" y="135.7" style="font-family:'Liberation Sans',sans-serif;font-weight:bold;font-size:2.8px" fill="#333" text-anchor="start" textLength="7.5" lengthAdjust="spacingAndGlyphs">Ley DTA</text>
<text x="76.9" y="139.7" style="font-family:'Liberation Sans',sans-serif;font-weight:bold;font-size:2.8px" fill="#333" text-anchor="start" textLength="10.5" lengthAdjust="spacingAndGlyphs">Adams PXD</text>
<text x="76.9" y="143.2" style="font-family:'Liberation Sans',sans-serif;font-weight:bold;font-size:2.8px" fill="#333" text-anchor="start" textLength="10.5" lengthAdjust="spacingAndGlyphs">Calc Phase</text>
<text transform="translate(36.0,176.9) rotate(-90)" x="0" y="0" style="font-family:'Liberation Sans',sans-serif;font-weight:bold;font-size:4.9px" fill="#000" stroke="#000" stroke-width="0.12" text-anchor="middle" textLength="34" lengthAdjust="spacingAndGlyphs">Temperature (°C)</text>
<text x="43.8" y="227.0" style="font-family:'Liberation Sans',sans-serif;font-weight:bold;font-size:4.2px" fill="#111" stroke="#111" stroke-width="0.15" textLength="7.0" lengthAdjust="spacingAndGlyphs">KBH<tspan style="font-size:2.52px" dy="1.05">4</tspan></text>
<text x="149.6" y="227.0" style="font-family:'Liberation Sans',sans-serif;font-weight:bold;font-size:4.2px" fill="#111" stroke="#111" stroke-width="0.15" textLength="9.2" lengthAdjust="spacingAndGlyphs">LiBH<tspan style="font-size:2.52px" dy="1.05">4</tspan></text>
<text x="75.2" y="232.2" style="font-family:'Liberation Sans',sans-serif;font-weight:bold;font-size:5.4px" fill="#111" stroke="#111" stroke-width="0.12" textLength="52.7" lengthAdjust="spacingAndGlyphs">xLiBH<tspan style="font-size:3.24px" dy="1.35">4</tspan><tspan dy="-1.35" style="font-style:italic;"> (Molar Fraction)</tspan></text>
<rect x="185.0" y="130.9" width="103.80000000000001" height="85.1" fill="#fff" stroke="#6a6a6a" stroke-width="0.6"/>
<text x="183.5" y="135.15" style="font-family:'Liberation Sans',sans-serif;font-weight:bold;font-size:5.0px" fill="#111" text-anchor="end" stroke="#111" stroke-width="0.2">600</text>
<text x="291.0" y="135.15" style="font-family:'Liberation Sans',sans-serif;font-weight:bold;font-size:5.0px" fill="#111" text-anchor="start" stroke="#111" stroke-width="0.2">600</text>
<text x="183.5" y="141.07857142857142" style="font-family:'Liberation Sans',sans-serif;font-weight:bold;font-size:5.0px" fill="#111" text-anchor="end" stroke="#111" stroke-width="0.2">560</text>
<text x="291.0" y="141.07857142857142" style="font-family:'Liberation Sans',sans-serif;font-weight:bold;font-size:5.0px" fill="#111" text-anchor="start" stroke="#111" stroke-width="0.2">560</text>
<text x="183.5" y="147.00714285714287" style="font-family:'Liberation Sans',sans-serif;font-weight:bold;font-size:5.0px" fill="#111" text-anchor="end" stroke="#111" stroke-width="0.2">520</text>
<text x="291.0" y="147.00714285714287" style="font-family:'Liberation Sans',sans-serif;font-weight:bold;font-size:5.0px" fill="#111" text-anchor="start" stroke="#111" stroke-width="0.2">520</text>
<text x="183.5" y="152.9357142857143" style="font-family:'Liberation Sans',sans-serif;font-weight:bold;font-size:5.0px" fill="#111" text-anchor="end" stroke="#111" stroke-width="0.2">480</text>
<text x="291.0" y="152.9357142857143" style="font-family:'Liberation Sans',sans-serif;font-weight:bold;font-size:5.0px" fill="#111" text-anchor="start" stroke="#111" stroke-width="0.2">480</text>
<text x="183.5" y="158.86428571428573" style="font-family:'Liberation Sans',sans-serif;font-weight:bold;font-size:5.0px" fill="#111" text-anchor="end" stroke="#111" stroke-width="0.2">440</text>
<text x="291.0" y="158.86428571428573" style="font-family:'Liberation Sans',sans-serif;font-weight:bold;font-size:5.0px" fill="#111" text-anchor="start" stroke="#111" stroke-width="0.2">440</text>
<text x="183.5" y="164.79285714285714" style="font-family:'Liberation Sans',sans-serif;font-weight:bold;font-size:5.0px" fill="#111" text-anchor="end" stroke="#111" stroke-width="0.2">400</text>
<text x="291.0" y="164.79285714285714" style="font-family:'Liberation Sans',sans-serif;font-weight:bold;font-size:5.0px" fill="#111" text-anchor="start" stroke="#111" stroke-width="0.2">400</text>
<text x="183.5" y="170.7214285714286" style="font-family:'Liberation Sans',sans-serif;font-weight:bold;font-size:5.0px" fill="#111" text-anchor="end" stroke="#111" stroke-width="0.2">360</text>
<text x="291.0" y="170.7214285714286" style="font-family:'Liberation Sans',sans-serif;font-weight:bold;font-size:5.0px" fill="#111" text-anchor="start" stroke="#111" stroke-width="0.2">360</text>
<text x="183.5" y="176.65" style="font-family:'Liberation Sans',sans-serif;font-weight:bold;font-size:5.0px" fill="#111" text-anchor="end" stroke="#111" stroke-width="0.2">320</text>
<text x="291.0" y="176.65" style="font-family:'Liberation Sans',sans-serif;font-weight:bold;font-size:5.0px" fill="#111" text-anchor="start" stroke="#111" stroke-width="0.2">320</text>
<text x="183.5" y="182.57857142857142" style="font-family:'Liberation Sans',sans-serif;font-weight:bold;font-size:5.0px" fill="#111" text-anchor="end" stroke="#111" stroke-width="0.2">280</text>
<text x="291.0" y="182.57857142857142" style="font-family:'Liberation Sans',sans-serif;font-weight:bold;font-size:5.0px" fill="#111" text-anchor="start" stroke="#111" stroke-width="0.2">280</text>
<text x="183.5" y="188.50714285714287" style="font-family:'Liberation Sans',sans-serif;font-weight:bold;font-size:5.0px" fill="#111" text-anchor="end" stroke="#111" stroke-width="0.2">240</text>
<text x="291.0" y="188.50714285714287" style="font-family:'Liberation Sans',sans-serif;font-weight:bold;font-size:5.0px" fill="#111" text-anchor="start" stroke="#111" stroke-width="0.2">240</text>
<text x="183.5" y="194.43571428571428" style="font-family:'Liberation Sans',sans-serif;font-weight:bold;font-size:5.0px" fill="#111" text-anchor="end" stroke="#111" stroke-width="0.2">200</text>
<text x="291.0" y="194.43571428571428" style="font-family:'Liberation Sans',sans-serif;font-weight:bold;font-size:5.0px" fill="#111" text-anchor="start" stroke="#111" stroke-width="0.2">200</text>
<text x="183.5" y="200.36428571428573" style="font-family:'Liberation Sans',sans-serif;font-weight:bold;font-size:5.0px" fill="#111" text-anchor="end" stroke="#111" stroke-width="0.2">160</text>
<text x="291.0" y="200.36428571428573" style="font-family:'Liberation Sans',sans-serif;font-weight:bold;font-size:5.0px" fill="#111" text-anchor="start" stroke="#111" stroke-width="0.2">160</text>
<text x="183.5" y="206.29285714285714" style="font-family:'Liberation Sans',sans-serif;font-weight:bold;font-size:5.0px" fill="#111" text-anchor="end" stroke="#111" stroke-width="0.2">120</text>
<text x="291.0" y="206.29285714285714" style="font-family:'Liberation Sans',sans-serif;font-weight:bold;font-size:5.0px" fill="#111" text-anchor="start" stroke="#111" stroke-width="0.2">120</text>
<text x="183.5" y="212.2214285714286" style="font-family:'Liberation Sans',sans-serif;font-weight:bold;font-size:5.0px" fill="#111" text-anchor="end" stroke="#111" stroke-width="0.2">80</text>
<text x="291.0" y="212.2214285714286" style="font-family:'Liberation Sans',sans-serif;font-weight:bold;font-size:5.0px" fill="#111" text-anchor="start" stroke="#111" stroke-width="0.2">80</text>
<text x="183.5" y="218.15" style="font-family:'Liberation Sans',sans-serif;font-weight:bold;font-size:5.0px" fill="#111" text-anchor="end" stroke="#111" stroke-width="0.2">40</text>
<text x="291.0" y="218.15" style="font-family:'Liberation Sans',sans-serif;font-weight:bold;font-size:5.0px" fill="#111" text-anchor="start" stroke="#111" stroke-width="0.2">40</text>
<text x="185.0" y="221.9" style="font-family:'Liberation Sans',sans-serif;font-weight:bold;font-size:5.0px" fill="#111" text-anchor="middle" stroke="#111" stroke-width="0.2">0.0</text>
<text x="195.38" y="221.9" style="font-family:'Liberation Sans',sans-serif;font-weight:bold;font-size:5.0px" fill="#111" text-anchor="middle" stroke="#111" stroke-width="0.2">0.1</text>
<text x="205.76" y="221.9" style="font-family:'Liberation Sans',sans-serif;font-weight:bold;font-size:5.0px" fill="#111" text-anchor="middle" stroke="#111" stroke-width="0.2">0.2</text>
<text x="216.14" y="221.9" style="font-family:'Liberation Sans',sans-serif;font-weight:bold;font-size:5.0px" fill="#111" text-anchor="middle" stroke="#111" stroke-width="0.2">0.3</text>
<text x="226.52" y="221.9" style="font-family:'Liberation Sans',sans-serif;font-weight:bold;font-size:5.0px" fill="#111" text-anchor="middle" stroke="#111" stroke-width="0.2">0.4</text>
<text x="236.9" y="221.9" style="font-family:'Liberation Sans',sans-serif;font-weight:bold;font-size:5.0px" fill="#111" text-anchor="middle" stroke="#111" stroke-width="0.2">0.5</text>
<text x="247.28" y="221.9" style="font-family:'Liberation Sans',sans-serif;font-weight:bold;font-size:5.0px" fill="#111" text-anchor="middle" stroke="#111" stroke-width="0.2">0.6</text>
<text x="257.65999999999997" y="221.9" style="font-family:'Liberation Sans',sans-serif;font-weight:bold;font-size:5.0px" fill="#111" text-anchor="middle" stroke="#111" stroke-width="0.2">0.7</text>
<text x="268.04" y="221.9" style="font-family:'Liberation Sans',sans-serif;font-weight:bold;font-size:5.0px" fill="#111" text-anchor="middle" stroke="#111" stroke-width="0.2">0.8</text>
<text x="278.42" y="221.9" style="font-family:'Liberation Sans',sans-serif;font-weight:bold;font-size:5.0px" fill="#111" text-anchor="middle" stroke="#111" stroke-width="0.2">0.9</text>
<text x="288.8" y="221.9" style="font-family:'Liberation Sans',sans-serif;font-weight:bold;font-size:5.0px" fill="#111" text-anchor="middle" stroke="#111" stroke-width="0.2">1.0</text>
<path d="M185.0,132.90h1.4M288.8,132.90h-1.4M185.0,135.86h0.8M288.8,135.86h-0.8M185.0,138.83h1.4M288.8,138.83h-1.4M185.0,141.79h0.8M288.8,141.79h-0.8M185.0,144.76h1.4M288.8,144.76h-1.4M185.0,147.72h0.8M288.8,147.72h-0.8M185.0,150.69h1.4M288.8,150.69h-1.4M185.0,153.65h0.8M288.8,153.65h-0.8M185.0,156.61h1.4M288.8,156.61h-1.4M185.0,159.58h0.8M288.8,159.58h-0.8M185.0,162.54h1.4M288.8,162.54h-1.4M185.0,165.51h0.8M288.8,165.51h-0.8M185.0,168.47h1.4M288.8,168.47h-1.4M185.0,171.44h0.8M288.8,171.44h-0.8M185.0,174.40h1.4M288.8,174.40h-1.4M185.0,177.36h0.8M288.8,177.36h-0.8M185.0,180.33h1.4M288.8,180.33h-1.4M185.0,183.29h0.8M288.8,183.29h-0.8M185.0,186.26h1.4M288.8,186.26h-1.4M185.0,189.22h0.8M288.8,189.22h-0.8M185.0,192.19h1.4M288.8,192.19h-1.4M185.0,195.15h0.8M288.8,195.15h-0.8M185.0,198.11h1.4M288.8,198.11h-1.4M185.0,201.08h0.8M288.8,201.08h-0.8M185.0,204.04h1.4M288.8,204.04h-1.4M185.0,207.01h0.8M288.8,207.01h-0.8M185.0,209.97h1.4M288.8,209.97h-1.4M185.0,212.94h0.8M288.8,212.94h-0.8M185.0,215.90h1.4M288.8,215.90h-1.4M185.00,216.0v-1.4M185.00,130.9v1.4M190.19,216.0v-0.8M190.19,130.9v0.8M195.38,216.0v-1.4M195.38,130.9v1.4M200.57,216.0v-0.8M200.57,130.9v0.8M205.76,216.0v-1.4M205.76,130.9v1.4M210.95,216.0v-0.8M210.95,130.9v0.8M216.14,216.0v-1.4M216.14,130.9v1.4M221.33,216.0v-0.8M221.33,130.9v0.8M226.52,216.0v-1.4M226.52,130.9v1.4M231.71,216.0v-0.8M231.71,130.9v0.8M236.90,216.0v-1.4M236.90,130.9v1.4M242.09,216.0v-0.8M242.09,130.9v0.8M247.28,216.0v-1.4M247.28,130.9v1.4M252.47,216.0v-0.8M252.47,130.9v0.8M257.66,216.0v-1.4M257.66,130.9v1.4M262.85,216.0v-0.8M262.85,130.9v0.8M268.04,216.0v-1.4M268.04,130.9v1.4M273.23,216.0v-0.8M273.23,130.9v0.8M278.42,216.0v-1.4M278.42,130.9v1.4M283.61,216.0v-0.8M283.61,130.9v0.8M288.80,216.0v-1.4M288.80,130.9v1.4" stroke="#333" stroke-width="0.7" fill="none"/>
<path d="M185.00,132.90 L187.59,133.41 L190.19,134.01 L192.78,134.65 L195.38,135.31 L197.97,135.99 L200.57,136.69 L203.16,137.41 L205.76,138.14 L208.36,138.88 L210.95,139.62 L213.55,140.38 L216.14,141.15 L218.74,141.92 L221.33,142.70 L223.93,143.49 L226.52,144.28 L229.12,145.08 L231.71,145.89 L234.31,146.70 L236.90,147.51 L239.50,148.33 L242.09,149.16 L244.69,149.99 L247.28,150.82 L249.88,151.66 L252.47,152.14 L255.06,152.02 L257.66,151.82 L260.25,151.59 L262.85,151.32 L265.44,151.01 L268.04,150.67 L270.63,150.31 L273.23,149.92 L275.83,149.51 L278.42,149.07 L281.01,148.62 L283.61,148.14 L286.21,147.64 L288.80,147.13" fill="none" stroke="#666" stroke-width="0.75"/>
<path d="M185.00,132.90 L187.59,134.59 L190.19,136.19 L192.78,137.70 L195.38,139.13 L197.97,140.48 L200.57,141.74 L203.16,142.93 L205.76,144.03 L208.36,145.05 L210.95,146.00 L213.55,146.87 L216.14,147.67 L218.74,148.39 L221.33,149.05 L223.93,149.63 L226.52,150.15 L229.12,150.60 L231.71,150.99 L234.31,151.32 L236.90,151.58 L239.50,151.80 L242.09,151.96 L244.69,152.07 L247.28,152.14 L249.88,152.16 L252.47,152.15 L255.06,152.02 L257.66,151.84 L260.25,151.61 L262.85,151.34 L265.44,151.04 L268.04,150.72 L270.63,150.37 L273.23,149.99 L275.83,149.59 L278.42,149.17 L281.01,148.72 L283.61,148.26 L286.21,147.78 L288.80,147.28" fill="none" stroke="#666" stroke-width="0.75"/>
<path d="M191.75,215.90 L194.00,213.52 L196.26,211.25 L198.52,209.11 L200.78,207.10 L203.04,205.20 L205.29,203.43 L207.55,201.78 L209.81,200.25 L212.07,198.84 L214.32,197.56 L216.58,196.40 L218.84,195.36 L221.10,194.44 L223.35,193.65 L225.61,192.97 L227.87,192.42 L230.13,191.99 L232.38,191.69 L234.64,191.51 L236.90,191.44 L239.16,191.51 L241.42,191.69 L243.67,191.99 L245.93,192.42 L248.19,192.97 L250.45,193.65 L252.70,194.44 L254.96,195.36 L257.22,196.40 L259.48,197.56 L261.73,198.84 L263.99,200.25 L266.25,201.78 L268.51,203.43 L270.76,205.20 L273.02,207.10 L275.28,209.11 L277.54,211.25 L279.80,213.52 L282.05,215.90" fill="none" stroke="#555" stroke-width="0.75"/>
<path d="M195.38,152.42 L196.53,154.69 L194.23,154.69 Z" fill="#0c9a0c" stroke="none" stroke-width="0.4"/>
<path d="M205.76,152.42 L206.91,154.69 L204.61,154.69 Z" fill="#0c9a0c" stroke="none" stroke-width="0.4"/>
<path d="M216.14,152.42 L217.29,154.69 L214.99,154.69 Z" fill="#0c9a0c" stroke="none" stroke-width="0.4"/>
<path d="M226.52,152.42 L227.67,154.69 L225.37,154.69 Z" fill="#0c9a0c" stroke="none" stroke-width="0.4"/>
<path d="M236.90,152.12 L238.05,154.39 L235.75,154.39 Z" fill="#0c9a0c" stroke="none" stroke-width="0.4"/>
<path d="M247.28,148.86 L248.43,151.13 L246.13,151.13 Z" fill="#0c9a0c" stroke="none" stroke-width="0.4"/>
<path d="M247.28,150.93 L248.43,153.20 L246.13,153.20 Z" fill="#0c9a0c" stroke="none" stroke-width="0.4"/>
<path d="M251.95,149.75 L253.10,152.02 L250.80,152.02 Z" fill="#0c9a0c" stroke="none" stroke-width="0.4"/>
<path d="M255.58,150.93 L256.73,153.20 L254.43,153.20 Z" fill="#0c9a0c" stroke="none" stroke-width="0.4"/>
<path d="M258.70,150.93 L259.85,153.20 L257.55,153.20 Z" fill="#0c9a0c" stroke="none" stroke-width="0.4"/>
<path d="M258.70,148.56 L259.85,150.83 L257.55,150.83 Z" fill="#0c9a0c" stroke="none" stroke-width="0.4"/>
<path d="M268.04,150.78 L269.19,153.05 L266.89,153.05 Z" fill="#0c9a0c" stroke="none" stroke-width="0.4"/>
<path d="M278.42,150.64 L279.57,152.91 L277.27,152.91 Z" fill="#0c9a0c" stroke="none" stroke-width="0.4"/>
<path d="M185.00,131.67 L186.15,133.94 L183.85,133.94 Z" fill="#0c9a0c" stroke="none" stroke-width="0.4"/>
<path d="M216.14,193.92 L217.29,196.19 L214.99,196.19 Z" fill="#0c9a0c" stroke="none" stroke-width="0.4"/>
<path d="M221.33,191.69 L222.48,193.96 L220.18,193.96 Z" fill="#0c9a0c" stroke="none" stroke-width="0.4"/>
<path d="M242.09,190.95 L243.24,193.22 L240.94,193.22 Z" fill="#0c9a0c" stroke="none" stroke-width="0.4"/>
<path d="M252.47,193.17 L253.62,195.44 L251.32,195.44 Z" fill="#0c9a0c" stroke="none" stroke-width="0.4"/>
<path d="M224.44,149.75 L225.59,152.02 L223.29,152.02 Z" fill="#b4e2b4" stroke="none" stroke-width="0.4"/>
<path d="M245.20,153.75 L246.35,156.02 L244.05,156.02 Z" fill="#b4e2b4" stroke="none" stroke-width="0.4"/>
<path d="M255.58,154.49 L256.73,156.76 L254.43,156.76 Z" fill="#b4e2b4" stroke="none" stroke-width="0.4"/>
<path d="M263.89,153.75 L265.04,156.02 L262.74,156.02 Z" fill="#b4e2b4" stroke="none" stroke-width="0.4"/>
<path d="M273.23,152.27 L274.38,154.54 L272.08,154.54 Z" fill="#b4e2b4" stroke="none" stroke-width="0.4"/>
<path d="M281.53,149.45 L282.68,151.72 L280.38,151.72 Z" fill="#b4e2b4" stroke="none" stroke-width="0.4"/>
<path d="M261.80,133.65 L262.75,135.55 L260.85,135.55 Z" fill="#0c9a0c" stroke="none" stroke-width="0.4"/>
<path d="M261.80,137.20 L262.80,139.20 L260.80,139.20 Z" fill="#b4e2b4" stroke="none" stroke-width="0.4"/>
<line x1="258" y1="142.2" x2="264" y2="142.2" stroke="#999" stroke-width="0.9"/>
<text x="265.5" y="135.7" style="font-family:'Liberation Sans',sans-serif;font-weight:bold;font-size:2.8px" fill="#333" text-anchor="start" textLength="14" lengthAdjust="spacingAndGlyphs">Jensen DTA</text>
<text x="265.5" y="139.3" style="font-family:'Liberation Sans',sans-serif;font-weight:bold;font-size:2.8px" fill="#333" text-anchor="start" textLength="20" lengthAdjust="spacingAndGlyphs">Semenenko DTA</text>
<text x="265.5" y="143.2" style="font-family:'Liberation Sans',sans-serif;font-weight:bold;font-size:2.8px" fill="#333" text-anchor="start" textLength="12" lengthAdjust="spacingAndGlyphs">Calc Phase</text>
<text transform="translate(171.5,172.2) rotate(-90)" x="0" y="0" style="font-family:'Liberation Sans',sans-serif;font-weight:bold;font-size:4.9px" fill="#000" stroke="#000" stroke-width="0.12" text-anchor="middle" textLength="38" lengthAdjust="spacingAndGlyphs">Temperature (°C)</text>
<text x="180.3" y="227.2" style="font-family:'Liberation Sans',sans-serif;font-weight:bold;font-size:4.2px" fill="#111" stroke="#111" stroke-width="0.15" textLength="10.0" lengthAdjust="spacingAndGlyphs">KBH<tspan style="font-size:2.52px" dy="1.05">4</tspan></text>
<text x="284.9" y="227.2" style="font-family:'Liberation Sans',sans-serif;font-weight:bold;font-size:4.2px" fill="#111" stroke="#111" stroke-width="0.15" textLength="11.9" lengthAdjust="spacingAndGlyphs">NaBH<tspan style="font-size:2.52px" dy="1.05">4</tspan></text>
<text x="209.4" y="231.3" style="font-family:'Liberation Sans',sans-serif;font-weight:bold;font-size:5.2px" fill="#111" stroke="#111" stroke-width="0.12" textLength="56.1" lengthAdjust="spacingAndGlyphs">xNaBH<tspan style="font-size:3.12px" dy="1.30">4</tspan><tspan dy="-1.30" style="font-style:italic;"> (Molar Fraction)</tspan></text>
<rect x="50.7" y="239.3" width="103.60000000000001" height="87.59999999999997" fill="#fff" stroke="#555" stroke-width="0.8"/>
<line x1="50.7" y1="239.30" x2="49.5" y2="239.30" stroke="#444" stroke-width="0.6"/>
<line x1="154.3" y1="239.30" x2="155.5" y2="239.30" stroke="#444" stroke-width="0.6"/>
<text x="48.3" y="240.8" style="font-family:'Liberation Sans',sans-serif;font-weight:bold;font-size:3.9px" fill="#111" text-anchor="end" stroke="#111" stroke-width="0.15">320</text>
<text x="156.6" y="240.8" style="font-family:'Liberation Sans',sans-serif;font-weight:bold;font-size:3.9px" fill="#111" text-anchor="start" stroke="#111" stroke-width="0.15">320</text>
<line x1="50.7" y1="246.60" x2="49.5" y2="246.60" stroke="#444" stroke-width="0.6"/>
<line x1="154.3" y1="246.60" x2="155.5" y2="246.60" stroke="#444" stroke-width="0.6"/>
<text x="48.3" y="248.10000000000002" style="font-family:'Liberation Sans',sans-serif;font-weight:bold;font-size:3.9px" fill="#111" text-anchor="end" stroke="#111" stroke-width="0.15">300</text>
<text x="156.6" y="248.10000000000002" style="font-family:'Liberation Sans',sans-serif;font-weight:bold;font-size:3.9px" fill="#111" text-anchor="start" stroke="#111" stroke-width="0.15">300</text>
<line x1="50.7" y1="253.90" x2="49.5" y2="253.90" stroke="#444" stroke-width="0.6"/>
<line x1="154.3" y1="253.90" x2="155.5" y2="253.90" stroke="#444" stroke-width="0.6"/>
<text x="48.3" y="255.4" style="font-family:'Liberation Sans',sans-serif;font-weight:bold;font-size:3.9px" fill="#111" text-anchor="end" stroke="#111" stroke-width="0.15">280</text>
<text x="156.6" y="255.4" style="font-family:'Liberation Sans',sans-serif;font-weight:bold;font-size:3.9px" fill="#111" text-anchor="start" stroke="#111" stroke-width="0.15">280</text>
<line x1="50.7" y1="261.20" x2="49.5" y2="261.20" stroke="#444" stroke-width="0.6"/>
<line x1="154.3" y1="261.20" x2="155.5" y2="261.20" stroke="#444" stroke-width="0.6"/>
<text x="48.3" y="262.7" style="font-family:'Liberation Sans',sans-serif;font-weight:bold;font-size:3.9px" fill="#111" text-anchor="end" stroke="#111" stroke-width="0.15">260</text>
<text x="156.6" y="262.7" style="font-family:'Liberation Sans',sans-serif;font-weight:bold;font-size:3.9px" fill="#111" text-anchor="start" stroke="#111" stroke-width="0.15">260</text>
<line x1="50.7" y1="268.50" x2="49.5" y2="268.50" stroke="#444" stroke-width="0.6"/>
<line x1="154.3" y1="268.50" x2="155.5" y2="268.50" stroke="#444" stroke-width="0.6"/>
<text x="48.3" y="270.0" style="font-family:'Liberation Sans',sans-serif;font-weight:bold;font-size:3.9px" fill="#111" text-anchor="end" stroke="#111" stroke-width="0.15">240</text>
<text x="156.6" y="270.0" style="font-family:'Liberation Sans',sans-serif;font-weight:bold;font-size:3.9px" fill="#111" text-anchor="start" stroke="#111" stroke-width="0.15">240</text>
<line x1="50.7" y1="275.80" x2="49.5" y2="275.80" stroke="#444" stroke-width="0.6"/>
<line x1="154.3" y1="275.80" x2="155.5" y2="275.80" stroke="#444" stroke-width="0.6"/>
<text x="48.3" y="277.3" style="font-family:'Liberation Sans',sans-serif;font-weight:bold;font-size:3.9px" fill="#111" text-anchor="end" stroke="#111" stroke-width="0.15">220</text>
<text x="156.6" y="277.3" style="font-family:'Liberation Sans',sans-serif;font-weight:bold;font-size:3.9px" fill="#111" text-anchor="start" stroke="#111" stroke-width="0.15">220</text>
<line x1="50.7" y1="283.10" x2="49.5" y2="283.10" stroke="#444" stroke-width="0.6"/>
<line x1="154.3" y1="283.10" x2="155.5" y2="283.10" stroke="#444" stroke-width="0.6"/>
<text x="48.3" y="284.6" style="font-family:'Liberation Sans',sans-serif;font-weight:bold;font-size:3.9px" fill="#111" text-anchor="end" stroke="#111" stroke-width="0.15">200</text>
<text x="156.6" y="284.6" style="font-family:'Liberation Sans',sans-serif;font-weight:bold;font-size:3.9px" fill="#111" text-anchor="start" stroke="#111" stroke-width="0.15">200</text>
<line x1="50.7" y1="290.40" x2="49.5" y2="290.40" stroke="#444" stroke-width="0.6"/>
<line x1="154.3" y1="290.40" x2="155.5" y2="290.40" stroke="#444" stroke-width="0.6"/>
<text x="48.3" y="291.9" style="font-family:'Liberation Sans',sans-serif;font-weight:bold;font-size:3.9px" fill="#111" text-anchor="end" stroke="#111" stroke-width="0.15">180</text>
<text x="156.6" y="291.9" style="font-family:'Liberation Sans',sans-serif;font-weight:bold;font-size:3.9px" fill="#111" text-anchor="start" stroke="#111" stroke-width="0.15">180</text>
<line x1="50.7" y1="297.70" x2="49.5" y2="297.70" stroke="#444" stroke-width="0.6"/>
<line x1="154.3" y1="297.70" x2="155.5" y2="297.70" stroke="#444" stroke-width="0.6"/>
<text x="48.3" y="299.2" style="font-family:'Liberation Sans',sans-serif;font-weight:bold;font-size:3.9px" fill="#111" text-anchor="end" stroke="#111" stroke-width="0.15">160</text>
<text x="156.6" y="299.2" style="font-family:'Liberation Sans',sans-serif;font-weight:bold;font-size:3.9px" fill="#111" text-anchor="start" stroke="#111" stroke-width="0.15">160</text>
<line x1="50.7" y1="305.00" x2="49.5" y2="305.00" stroke="#444" stroke-width="0.6"/>
<line x1="154.3" y1="305.00" x2="155.5" y2="305.00" stroke="#444" stroke-width="0.6"/>
<text x="48.3" y="306.5" style="font-family:'Liberation Sans',sans-serif;font-weight:bold;font-size:3.9px" fill="#111" text-anchor="end" stroke="#111" stroke-width="0.15">140</text>
<text x="156.6" y="306.5" style="font-family:'Liberation Sans',sans-serif;font-weight:bold;font-size:3.9px" fill="#111" text-anchor="start" stroke="#111" stroke-width="0.15">140</text>
<line x1="50.7" y1="312.30" x2="49.5" y2="312.30" stroke="#444" stroke-width="0.6"/>
<line x1="154.3" y1="312.30" x2="155.5" y2="312.30" stroke="#444" stroke-width="0.6"/>
<text x="48.3" y="313.79999999999995" style="font-family:'Liberation Sans',sans-serif;font-weight:bold;font-size:3.9px" fill="#111" text-anchor="end" stroke="#111" stroke-width="0.15">120</text>
<text x="156.6" y="313.79999999999995" style="font-family:'Liberation Sans',sans-serif;font-weight:bold;font-size:3.9px" fill="#111" text-anchor="start" stroke="#111" stroke-width="0.15">120</text>
<line x1="50.7" y1="319.60" x2="49.5" y2="319.60" stroke="#444" stroke-width="0.6"/>
<line x1="154.3" y1="319.60" x2="155.5" y2="319.60" stroke="#444" stroke-width="0.6"/>
<text x="48.3" y="321.09999999999997" style="font-family:'Liberation Sans',sans-serif;font-weight:bold;font-size:3.9px" fill="#111" text-anchor="end" stroke="#111" stroke-width="0.15">100</text>
<text x="156.6" y="321.09999999999997" style="font-family:'Liberation Sans',sans-serif;font-weight:bold;font-size:3.9px" fill="#111" text-anchor="start" stroke="#111" stroke-width="0.15">100</text>
<line x1="50.7" y1="326.90" x2="49.5" y2="326.90" stroke="#444" stroke-width="0.6"/>
<line x1="154.3" y1="326.90" x2="155.5" y2="326.90" stroke="#444" stroke-width="0.6"/>
<text x="48.3" y="328.4" style="font-family:'Liberation Sans',sans-serif;font-weight:bold;font-size:3.9px" fill="#111" text-anchor="end" stroke="#111" stroke-width="0.15">80</text>
<text x="156.6" y="328.4" style="font-family:'Liberation Sans',sans-serif;font-weight:bold;font-size:3.9px" fill="#111" text-anchor="start" stroke="#111" stroke-width="0.15">80</text>
<line x1="50.7" y1="242.95" x2="50.0" y2="242.95" stroke="#444" stroke-width="0.5"/>
<line x1="154.3" y1="242.95" x2="155.0" y2="242.95" stroke="#444" stroke-width="0.5"/>
<line x1="50.7" y1="250.25" x2="50.0" y2="250.25" stroke="#444" stroke-width="0.5"/>
<line x1="154.3" y1="250.25" x2="155.0" y2="250.25" stroke="#444" stroke-width="0.5"/>
<line x1="50.7" y1="257.55" x2="50.0" y2="257.55" stroke="#444" stroke-width="0.5"/>
<line x1="154.3" y1="257.55" x2="155.0" y2="257.55" stroke="#444" stroke-width="0.5"/>
<line x1="50.7" y1="264.85" x2="50.0" y2="264.85" stroke="#444" stroke-width="0.5"/>
<line x1="154.3" y1="264.85" x2="155.0" y2="264.85" stroke="#444" stroke-width="0.5"/>
<line x1="50.7" y1="272.15" x2="50.0" y2="272.15" stroke="#444" stroke-width="0.5"/>
<line x1="154.3" y1="272.15" x2="155.0" y2="272.15" stroke="#444" stroke-width="0.5"/>
<line x1="50.7" y1="279.45" x2="50.0" y2="279.45" stroke="#444" stroke-width="0.5"/>
<line x1="154.3" y1="279.45" x2="155.0" y2="279.45" stroke="#444" stroke-width="0.5"/>
<line x1="50.7" y1="286.75" x2="50.0" y2="286.75" stroke="#444" stroke-width="0.5"/>
<line x1="154.3" y1="286.75" x2="155.0" y2="286.75" stroke="#444" stroke-width="0.5"/>
<line x1="50.7" y1="294.05" x2="50.0" y2="294.05" stroke="#444" stroke-width="0.5"/>
<line x1="154.3" y1="294.05" x2="155.0" y2="294.05" stroke="#444" stroke-width="0.5"/>
<line x1="50.7" y1="301.35" x2="50.0" y2="301.35" stroke="#444" stroke-width="0.5"/>
<line x1="154.3" y1="301.35" x2="155.0" y2="301.35" stroke="#444" stroke-width="0.5"/>
<line x1="50.7" y1="308.65" x2="50.0" y2="308.65" stroke="#444" stroke-width="0.5"/>
<line x1="154.3" y1="308.65" x2="155.0" y2="308.65" stroke="#444" stroke-width="0.5"/>
<line x1="50.7" y1="315.95" x2="50.0" y2="315.95" stroke="#444" stroke-width="0.5"/>
<line x1="154.3" y1="315.95" x2="155.0" y2="315.95" stroke="#444" stroke-width="0.5"/>
<line x1="50.7" y1="323.25" x2="50.0" y2="323.25" stroke="#444" stroke-width="0.5"/>
<line x1="154.3" y1="323.25" x2="155.0" y2="323.25" stroke="#444" stroke-width="0.5"/>
<line x1="50.70" y1="326.9" x2="50.70" y2="328.1" stroke="#444" stroke-width="0.6"/>
<line x1="50.70" y1="239.3" x2="50.70" y2="238.1" stroke="#444" stroke-width="0.6"/>
<text x="50.7" y="332.3" style="font-family:'Liberation Sans',sans-serif;font-weight:bold;font-size:3.9px" fill="#111" text-anchor="middle" stroke="#111" stroke-width="0.15">1.0</text>
<line x1="71.42" y1="326.9" x2="71.42" y2="328.1" stroke="#444" stroke-width="0.6"/>
<line x1="71.42" y1="239.3" x2="71.42" y2="238.1" stroke="#444" stroke-width="0.6"/>
<text x="71.42" y="332.3" style="font-family:'Liberation Sans',sans-serif;font-weight:bold;font-size:3.9px" fill="#111" text-anchor="middle" stroke="#111" stroke-width="0.15">0.8</text>
<line x1="92.14" y1="326.9" x2="92.14" y2="328.1" stroke="#444" stroke-width="0.6"/>
<line x1="92.14" y1="239.3" x2="92.14" y2="238.1" stroke="#444" stroke-width="0.6"/>
<text x="92.14000000000001" y="332.3" style="font-family:'Liberation Sans',sans-serif;font-weight:bold;font-size:3.9px" fill="#111" text-anchor="middle" stroke="#111" stroke-width="0.15">0.6</text>
<line x1="112.86" y1="326.9" x2="112.86" y2="328.1" stroke="#444" stroke-width="0.6"/>
<line x1="112.86" y1="239.3" x2="112.86" y2="238.1" stroke="#444" stroke-width="0.6"/>
<text x="112.86000000000001" y="332.3" style="font-family:'Liberation Sans',sans-serif;font-weight:bold;font-size:3.9px" fill="#111" text-anchor="middle" stroke="#111" stroke-width="0.15">0.4</text>
<line x1="133.58" y1="326.9" x2="133.58" y2="328.1" stroke="#444" stroke-width="0.6"/>
<line x1="133.58" y1="239.3" x2="133.58" y2="238.1" stroke="#444" stroke-width="0.6"/>
<text x="133.58" y="332.3" style="font-family:'Liberation Sans',sans-serif;font-weight:bold;font-size:3.9px" fill="#111" text-anchor="middle" stroke="#111" stroke-width="0.15">0.2</text>
<line x1="154.30" y1="326.9" x2="154.30" y2="328.1" stroke="#444" stroke-width="0.6"/>
<line x1="154.30" y1="239.3" x2="154.30" y2="238.1" stroke="#444" stroke-width="0.6"/>
<text x="154.3" y="332.3" style="font-family:'Liberation Sans',sans-serif;font-weight:bold;font-size:3.9px" fill="#111" text-anchor="middle" stroke="#111" stroke-width="0.15">0.0</text>
<path d="M50.70,239.30 L154.30,239.30" fill="none" stroke="#999" stroke-width="1.2"/>
<path d="M50.70,326.90 L154.30,326.90" fill="none" stroke="#666" stroke-width="1.0"/>
<path d="M50.70,249.60 L98.10,290.10 L154.30,241.60" fill="none" stroke="#555" stroke-width="0.5"/>
<path d="M50.70,290.40 L154.30,290.40" fill="none" stroke="#888" stroke-width="0.6"/>
<path d="M50.70,314.50 L154.30,314.50" fill="none" stroke="#aaa" stroke-width="0.6" stroke-dasharray="1.2,0.8"/>
<rect x="50.30" y="249.00" width="1.2" height="1.2" fill="#222"/>
<rect x="60.40" y="256.90" width="1.2" height="1.2" fill="#222"/>
<rect x="70.80" y="265.80" width="1.2" height="1.2" fill="#222"/>
<rect x="76.00" y="271.50" width="1.2" height="1.2" fill="#222"/>
<rect x="85.40" y="280.90" width="1.2" height="1.2" fill="#222"/>
<rect x="143.50" y="250.80" width="1.2" height="1.2" fill="#222"/>
<rect x="153.60" y="241.90" width="1.2" height="1.2" fill="#222"/>
<rect x="132.50" y="289.00" width="1.2" height="1.2" fill="#222"/>
<path d="M133.10,290.00 L133.10,293.50" fill="none" stroke="#888" stroke-width="0.4"/>
<rect x="116.7" y="293.6" width="32.6" height="6.4" fill="#fff" stroke="#888" stroke-width="0.5" rx="0.6"/>
<text x="55.2" y="280.5" style="font-family:'Liberation Sans',sans-serif;font-weight:bold;font-size:3.3px" fill="#1a1a1a" text-anchor="start" textLength="20" lengthAdjust="spacingAndGlyphs">h-LiBH<tspan font-size="2.2" dy="0.7">4</tspan><tspan dy="-0.7"> + L</tspan></text>
<text x="99.5" y="262.4" style="font-family:'Liberation Sans',sans-serif;font-weight:bold;font-size:3.3px" fill="#1a1a1a" text-anchor="start">L</text>
<text x="119.7" y="281.5" style="font-family:'Liberation Sans',sans-serif;font-weight:bold;font-size:3.3px" fill="#1a1a1a" text-anchor="start" textLength="27" lengthAdjust="spacingAndGlyphs">β-Mg(BH<tspan font-size="2.2" dy="0.7">4</tspan><tspan dy="-0.7">)</tspan><tspan font-size="2.2" dy="0.7">2</tspan><tspan dy="-0.7"> + L</tspan></text>
<text x="118.5" y="297.8" style="font-family:'Liberation Sans',sans-serif;font-weight:bold;font-size:3.3px" fill="#1a1a1a" text-anchor="start" textLength="28" lengthAdjust="spacingAndGlyphs">α-Mg(BH<tspan font-size="2.2" dy="0.7">4</tspan><tspan dy="-0.7">)</tspan><tspan font-size="2.2" dy="0.7">2</tspan><tspan dy="-0.7"> + L</tspan></text>
<text x="73.2" y="305.2" style="font-family:'Liberation Sans',sans-serif;font-weight:bold;font-size:3.3px" fill="#1a1a1a" text-anchor="start" textLength="40" lengthAdjust="spacingAndGlyphs">α-Mg(BH<tspan font-size="2.2" dy="0.7">4</tspan><tspan dy="-0.7">)</tspan><tspan font-size="2.2" dy="0.7">2</tspan><tspan dy="-0.7"> + h-LiBH</tspan><tspan font-size="2.2" dy="0.7">4</tspan></text>
<text x="73.2" y="321.4" style="font-family:'Liberation Sans',sans-serif;font-weight:bold;font-size:3.3px" fill="#1a1a1a" text-anchor="start" textLength="40" lengthAdjust="spacingAndGlyphs">α-Mg(BH<tspan font-size="2.2" dy="0.7">4</tspan><tspan dy="-0.7">)</tspan><tspan font-size="2.2" dy="0.7">2</tspan><tspan dy="-0.7"> + o-LiBH</tspan><tspan font-size="2.2" dy="0.7">4</tspan></text>
<text transform="translate(36.0,282.3) rotate(-90)" x="0" y="0" style="font-family:'Liberation Sans',sans-serif;font-weight:bold;font-size:4.9px" fill="#000" stroke="#000" stroke-width="0.12" text-anchor="middle" textLength="38" lengthAdjust="spacingAndGlyphs">Temperature (°C)</text>
<text x="93.3" y="338.6" style="font-family:'Liberation Sans',sans-serif;font-weight:bold;font-size:4.3px" fill="#222" text-anchor="start" textLength="20.4" lengthAdjust="spacingAndGlyphs"><tspan font-style="italic">X</tspan> (LiBH<tspan font-size="2.6" dy="0.8">4</tspan><tspan dy="-0.8">)</tspan></text>
</svg>
</body></html>
